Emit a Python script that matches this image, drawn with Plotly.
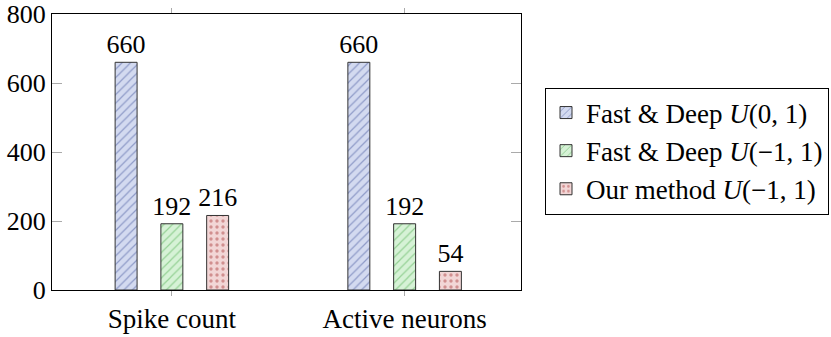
import plotly.graph_objects as go

categories = ["Spike count", "Active neurons"]
series_names = ["Fast & Deep <i>U</i>(0, 1)", "Fast & Deep <i>U</i>(−1, 1)", "Our method <i>U</i>(−1, 1)"]
fd01 = [660, 660]
fd11 = [192, 192]
ours = [216, 54]
yticks = [0, 200, 400, 600, 800]

styles = [
    dict(bg="#d3daf0", fg="#4b5ca0", shape="/"),
    dict(bg="#d6f2d6", fg="#55b055", shape="/"),
    dict(bg="#f2d6d6", fg="#b04848", shape="."),
]

SERIF = "'Liberation Serif', 'Times New Roman', Times, serif"

fig = go.Figure()
for name, vals, st in zip(series_names, [fd01, fd11, ours], styles):
    fig.add_trace(go.Bar(
        x=[0, 1], y=vals, name=name,
        text=[str(v) for v in vals], textposition="outside",
        textfont=dict(family=SERIF, size=26, color="black"),
        outsidetextfont=dict(family=SERIF, size=26, color="black"),
        constraintext="none",
        cliponaxis=False,
        marker=dict(color=st["bg"], line=dict(color="#333333", width=1),
                    pattern=dict(shape=st["shape"], fgcolor=st["fg"], bgcolor=st["bg"],
                                 size=6, solidity=0.25 if st["shape"] == "." else 0.2)),
    ))

fig.update_layout(
    width=831, height=337,
    margin=dict(l=52, r=310, t=14, b=47, autoexpand=False),
    barmode="group", bargap=0.41, bargroupgap=0.52,
    plot_bgcolor="white", paper_bgcolor="white",
    font=dict(family=SERIF, size=26, color="black"),
    showlegend=True,
    legend=dict(xref="container", yref="container", x=545 / 831, y=1 - 151 / 337,
                xanchor="left", yanchor="middle",
                bordercolor="black", borderwidth=1,
                font=dict(family=SERIF, size=27), tracegroupgap=0,
                itemwidth=30),
    xaxis=dict(range=[-0.515, 1.5], tickvals=[0, 1], ticktext=categories,
               showline=True, linecolor="black", linewidth=1, mirror="ticks",
               ticks="outside", tickcolor="#aaaaaa", ticklen=5, showgrid=False,
               tickfont=dict(family=SERIF, size=27), zeroline=False, automargin=False),
    yaxis=dict(range=[0, 800], tickvals=yticks,
               showline=True, linecolor="black", linewidth=1, mirror="ticks",
               ticks="inside", tickcolor="#aaaaaa", ticklen=10, showgrid=False,
               tickfont=dict(family=SERIF, size=26), zeroline=False, automargin=False),
)

fig.write_html("out.html")
